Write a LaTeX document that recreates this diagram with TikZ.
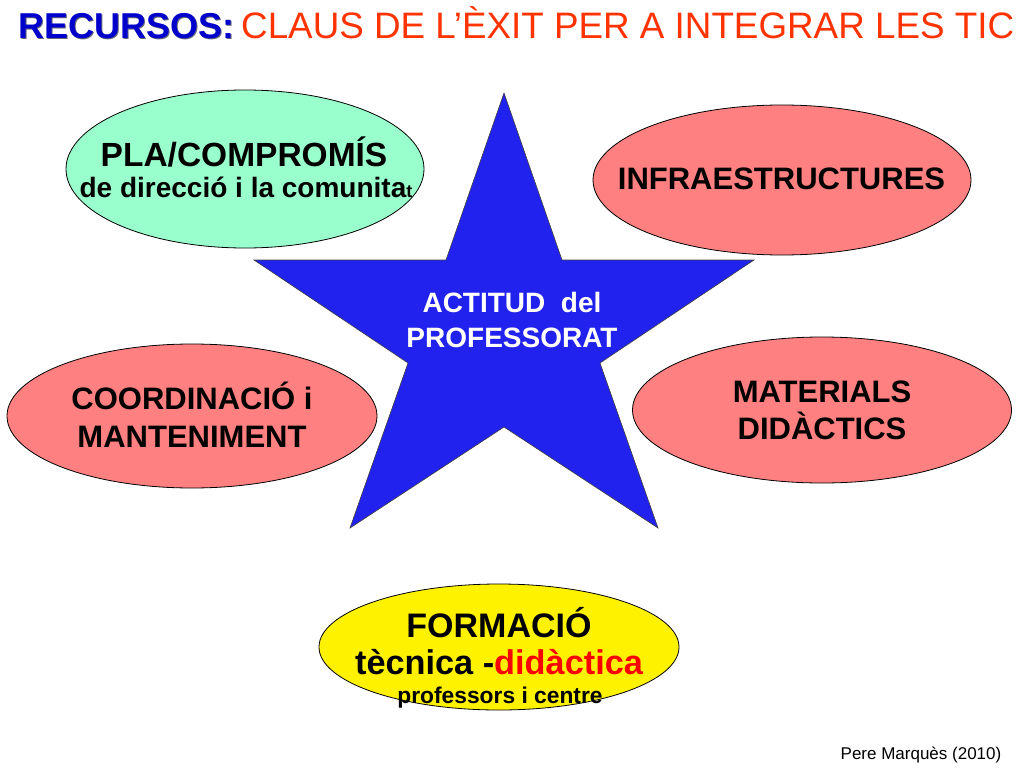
\documentclass[tikz,border=0pt]{standalone}
\usepackage{fontspec}
\setmainfont{Liberation Sans}
\usetikzlibrary{shapes.geometric}
\definecolor{starblue}{RGB}{34,34,238}
\definecolor{salmon}{RGB}{255,128,128}
\definecolor{mint}{RGB}{153,255,204}
\definecolor{titleblue}{RGB}{0,0,204}
\definecolor{titleshade}{RGB}{40,40,70}
\definecolor{titlered}{RGB}{255,51,0}
\definecolor{didred}{RGB}{255,0,0}
\newcommand{\fsz}[1]{\fontsize{#1pt}{#1pt}\selectfont}
\begin{document}
\begin{tikzpicture}[x=1pt,y=-1pt,
  oval/.style={ellipse, draw=black, line width=0.8pt, inner sep=0pt},
  lbl/.style={anchor=base, inner sep=0pt},
]
\useasboundingbox[fill=white] (0,0) rectangle (1024,768);

% title
\node[anchor=base west, inner sep=0pt, text=titleshade, opacity=0.7] (titleshadow) at (19.3,39.3) {\fsz{36}\bfseries RECURSOS:};
\node[anchor=base west, inner sep=0pt, text=titleblue] (titleblue) at (18,38) {\fsz{36}\bfseries RECURSOS:};
\node[anchor=base west, inner sep=0pt, text=titlered] (titlered) at (241,38) {\fsz{36.8}CLAUS DE L’ÈXIT PER A INTEGRAR LES TIC};

% ellipses
\node[oval, fill=mint, minimum width=358pt, minimum height=158pt] (pla) at (245,169) {};
\node[oval, fill=salmon, minimum width=378pt, minimum height=150pt] (infra) at (782,180) {};
\node[oval, fill=salmon, minimum width=370pt, minimum height=144pt] (coord) at (192,416) {};
\node[oval, fill=salmon, minimum width=379pt, minimum height=146pt] (mat) at (822,410) {};
\node[oval, fill=yellow, minimum width=360pt, minimum height=126pt] (form) at (499,647) {};

% star
\draw[fill=starblue, draw=black!75, line width=0.6pt]
  (504,93) -- (562,260) -- (754,260) -- (600,363) -- (658,528) -- (504,427)
  -- (350,528) -- (408,363) -- (254,260) -- (446,260) -- cycle;

% texts
\node[lbl] (plaA) at (244,166) {\fsz{33.5}\bfseries PLA/COMPROMÍS};
\node[lbl] (plaB) at (246,197) {\fsz{28}\bfseries de direcció i la comunita{\fsz{18}t}};

\node[lbl] (infraT) at (781.5,189) {\fsz{31}\bfseries INFRAESTRUCTURES};

\node[lbl, text=white] (starA) at (512,312) {\fsz{28}\bfseries ACTITUD\ \ del};
\node[lbl, text=white] (starB) at (512,347) {\fsz{28}\bfseries PROFESSORAT};

\node[lbl] (coordA) at (192,409) {\fsz{31}\bfseries COORDINACIÓ i};
\node[lbl] (coordB) at (192,447) {\fsz{31}\bfseries MANTENIMENT};

\node[lbl] (matA) at (822,402) {\fsz{31}\bfseries MATERIALS};
\node[lbl] (matB) at (822,439) {\fsz{31}\bfseries DIDÀCTICS};

\node[lbl] (formA) at (499,637) {\fsz{34}\bfseries FORMACIÓ};
\node[lbl] (formB) at (499,674) {\fsz{34.3}\bfseries tècnica -\textcolor{didred}{didàctica}};
\node[lbl] (formC) at (500,703) {\fsz{22.8}\bfseries professors i centre};

\node[lbl] (author) at (921,759) {\fsz{17}Pere Marquès (2010)};
\end{tikzpicture}
\end{document}
